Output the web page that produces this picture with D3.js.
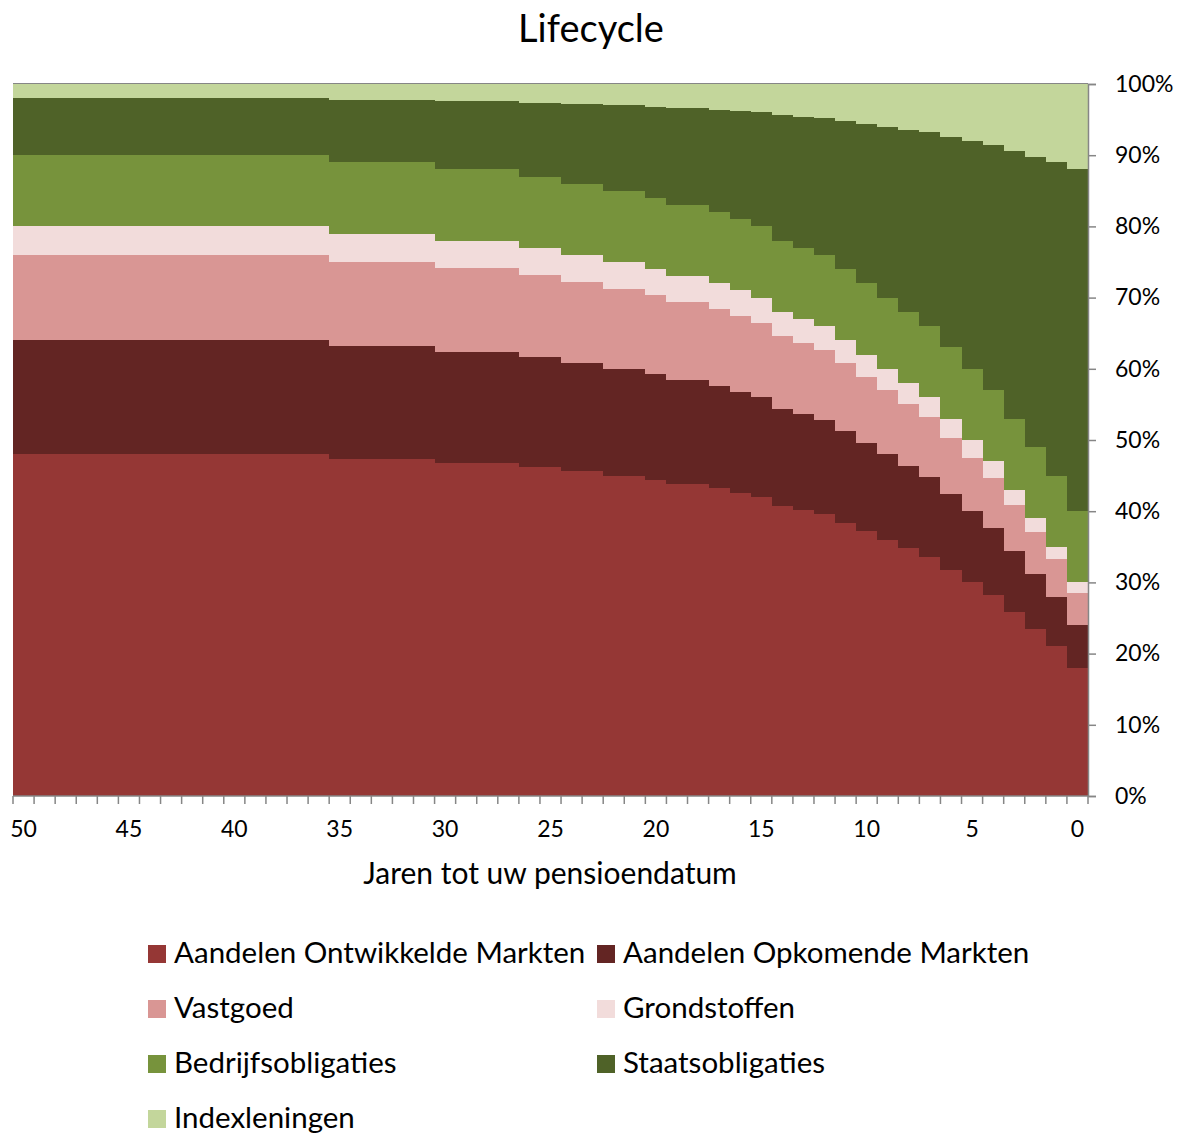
<!DOCTYPE html>
<html>
<head>
<meta charset="utf-8">
<script src="https://cdn.jsdelivr.net/npm/d3@7"></script>
<style>
  html, body { margin: 0; padding: 0; background: #fff; }
  svg { display: block; font-family: Lato, "Open Sans", sans-serif; }
</style>
</head>
<body>
<svg id="chart" width="1184" height="1135"></svg>
<script>
// ---- Data (percent of portfolio per year before retirement) ----
const years = [50,49,48,47,46,45,44,43,42,41,40,39,38,37,36,35,34,33,32,31,30,29,28,27,26,25,24,23,22,21,20,19,18,17,16,15,14,13,12,11,10,9,8,7,6,5,4,3,2,1,0];

const aandelenOntwikkeld = [48,48,48,48,48,48,48,48,48,48,48,48,48,48,48, 47.4,47.4,47.4,47.4,47.4, 46.8,46.8,46.8,46.8, 46.2,46.2, 45.6,45.6, 45,45, 44.4, 43.8,43.8, 43.2,42.6,42,40.8,40.2,39.6,38.4,37.2,36,34.8,33.6,31.8,30,28.2,25.8,23.4,21,18];
const aandelenOpkomend = [16,16,16,16,16,16,16,16,16,16,16,16,16,16,16, 15.8,15.8,15.8,15.8,15.8, 15.6,15.6,15.6,15.6, 15.4,15.4, 15.2,15.2, 15,15, 14.8, 14.6,14.6, 14.4,14.2,14,13.6,13.4,13.2,12.8,12.4,12,11.6,11.2,10.6,10,9.4,8.6,7.8,7,6];
const vastgoed = [12,12,12,12,12,12,12,12,12,12,12,12,12,12,12, 11.85,11.85,11.85,11.85,11.85, 11.7,11.7,11.7,11.7, 11.55,11.55, 11.4,11.4, 11.25,11.25, 11.1, 10.95,10.95, 10.8,10.65,10.5,10.2,10.05,9.9,9.6,9.3,9,8.7,8.4,7.95,7.5,7.05,6.45,5.85,5.25,4.5];
const grondstoffen = [4,4,4,4,4,4,4,4,4,4,4,4,4,4,4, 3.95,3.95,3.95,3.95,3.95, 3.9,3.9,3.9,3.9, 3.85,3.85, 3.8,3.8, 3.75,3.75, 3.7, 3.65,3.65, 3.6,3.55,3.5,3.4,3.35,3.3,3.2,3.1,3,2.9,2.8,2.65,2.5,2.35,2.15,1.95,1.75,1.5];
const bedrijfsobligaties = [10,10,10,10,10,10,10,10,10,10,10,10,10,10,10,10,10,10,10,10,10,10,10,10,10,10,10,10,10,10,10,10,10,10,10,10,10,10,10,10,10,10,10,10,10,10,10,10,10,10,10];
const staatsobligaties = [8,8,8,8,8,8,8,8,8,8,8,8,8,8,8, 8.8,8.8,8.8,8.8,8.8, 9.6,9.6,9.6,9.6, 10.4,10.4, 11.2,11.2, 12,12, 12.8, 13.6,13.6, 14.4,15.2,16,17.6,18.4,19.2,20.8,22.4,24,25.6,27.2,29.6,32,34.4,37.6,40.8,44,48];
const indexleningen = [2,2,2,2,2,2,2,2,2,2,2,2,2,2,2, 2.2,2.2,2.2,2.2,2.2, 2.4,2.4,2.4,2.4, 2.6,2.6, 2.8,2.8, 3,3, 3.2, 3.4,3.4, 3.6,3.8,4,4.4,4.6,4.8,5.2,5.6,6,6.4,6.8,7.4,8,8.6,9.4,10.2,11,12];

const seriesNames = ["Aandelen Ontwikkelde Markten","Aandelen Opkomende Markten","Vastgoed","Grondstoffen","Bedrijfsobligaties","Staatsobligaties","Indexleningen"];
const seriesValues = [aandelenOntwikkeld, aandelenOpkomend, vastgoed, grondstoffen, bedrijfsobligaties, staatsobligaties, indexleningen];
const seriesColors = ["#953735","#632523","#D99694","#F2DCDB","#77933C","#4F6228","#C3D69B"];
const yTicks = [0,10,20,30,40,50,60,70,80,90,100];
const xLabelYears = [50,45,40,35,30,25,20,15,10,5,0];

const titleText = "Lifecycle";
const xTitle = "Jaren tot uw pensioendatum";

// ---- Layout ----
const svg = d3.select("#chart");
const plot = { left: 13, right: 1088, top: 84, bottom: 796 };
const axisColor = "#868686";

const rows = years.map((yr, i) => {
  const r = { year: yr };
  seriesNames.forEach((n, k) => r[n] = seriesValues[k][i]);
  return r;
});
const stacked = d3.stack().keys(seriesNames)(rows);

const x = d3.scaleBand().domain(years).range([plot.left, plot.right]).padding(0);
const y = d3.scaleLinear().domain([0, 100]).range([plot.bottom, plot.top]);
const color = d3.scaleOrdinal().domain(seriesNames).range(seriesColors);

// Columns
const g = svg.append("g");
stacked.forEach(layer => {
  g.append("g")
    .attr("fill", color(layer.key))
    .selectAll("rect")
    .data(layer)
    .join("rect")
    .attr("shape-rendering", "crispEdges")
    .attr("x", d => x(d.data.year))
    .attr("width", (d, i) => x.bandwidth() + (i < years.length - 1 ? 0.8 : 0))
    .attr("y", d => y(d[1]))
    .attr("height", d => y(d[0]) - y(d[1]));
});

// Top border line
svg.append("line")
  .attr("x1", plot.left).attr("x2", plot.right)
  .attr("y1", plot.top - 0.5).attr("y2", plot.top - 0.5)
  .attr("stroke", axisColor).attr("stroke-width", 1.2);

// Y axis (right)
const yAxis = d3.axisRight(y).tickValues(yTicks).tickFormat(d => d + "%").tickSize(8).tickPadding(19);
const gy = svg.append("g").attr("transform", `translate(${plot.right},0)`).call(yAxis);
gy.select(".domain").attr("stroke", axisColor).attr("stroke-width", 1.5);
gy.selectAll(".tick line").attr("stroke", axisColor).attr("stroke-width", 1.5);
gy.selectAll(".tick text").attr("font-size", 23).attr("fill", "#000").attr("font-family", "Lato, sans-serif");

// X axis: boundary ticks
const boundaries = years.map(yr => x(yr)).concat([x(years[years.length - 1]) + x.bandwidth()]);
const gx = svg.append("g");
gx.append("line")
  .attr("x1", plot.left).attr("x2", plot.right)
  .attr("y1", plot.bottom).attr("y2", plot.bottom)
  .attr("stroke", axisColor).attr("stroke-width", 1.5);
gx.selectAll("line.tk").data(boundaries).join("line")
  .attr("class", "tk")
  .attr("x1", d => d).attr("x2", d => d)
  .attr("y1", plot.bottom).attr("y2", plot.bottom + 8)
  .attr("stroke", axisColor).attr("stroke-width", 1.5);

// X labels via axis with band scale (centered in band)
const xAxis = d3.axisBottom(x).tickValues(xLabelYears).tickSize(0).tickPadding(25);
const gxl = svg.append("g").attr("transform", `translate(0,${plot.bottom})`).call(xAxis);
gxl.select(".domain").remove();
gxl.selectAll(".tick text").attr("font-size", 23).attr("fill", "#000").attr("font-family", "Lato, sans-serif");

// Title
svg.append("text")
  .attr("x", 591).attr("y", 42)
  .attr("text-anchor", "middle")
  .attr("font-size", 38)
  .attr("fill", "#000")
  .text(titleText);

// X axis title
svg.append("text")
  .attr("x", 550).attr("y", 884)
  .attr("text-anchor", "middle")
  .attr("font-size", 30)
  .attr("fill", "#000")
  .text(xTitle);

// Legend
const legendCols = [148, 597];
const legendRowY = [963, 1018, 1073, 1128];
const legend = svg.append("g");
seriesNames.forEach((n, i) => {
  const cx = legendCols[i % 2];
  const by = legendRowY[Math.floor(i / 2)];
  legend.append("rect")
    .attr("x", cx).attr("y", by - 18)
    .attr("width", 18).attr("height", 18)
    .attr("fill", color(n));
  legend.append("text")
    .attr("x", cx + 26).attr("y", by)
    .attr("font-size", 29.5)
    .attr("fill", "#000")
    .text(n);
});
</script>
</body>
</html>
